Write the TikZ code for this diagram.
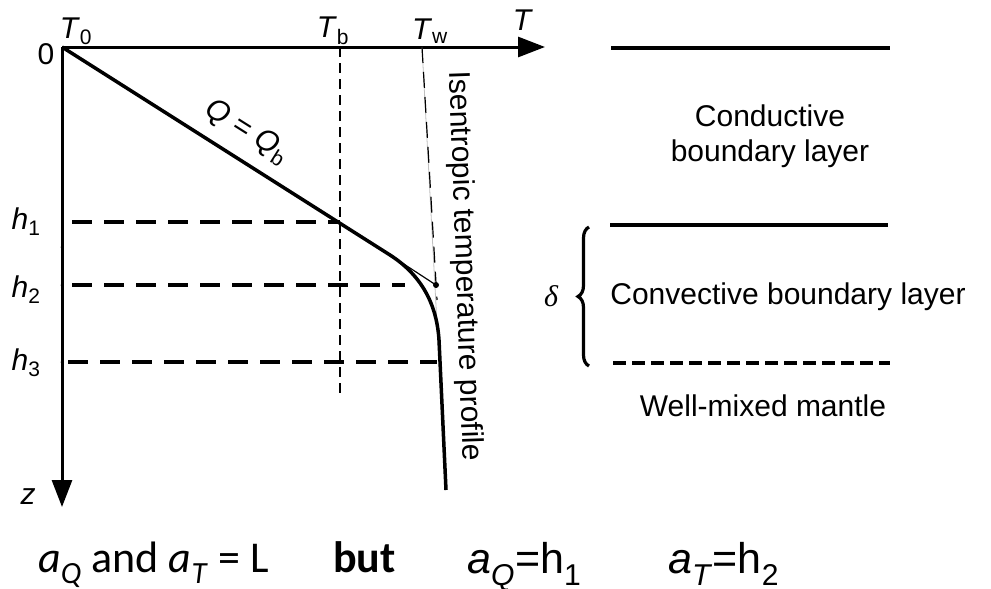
\documentclass[tikz,border=0pt]{standalone}
\usepackage{fontspec}
\setmainfont{Liberation Sans}
\newfontfamily\calfont{Carlito}
\newfontfamily\deltafont{Liberation Serif}
\usetikzlibrary{arrows.meta,decorations.pathreplacing}

\begin{document}
\begin{tikzpicture}[x=1pt,y=-1pt]
        % Style definitions
        \tikzset{
            axis/.style={black, line width=3pt, -{Triangle[length=27pt,width=20pt]}},
            profile/.style={black, line width=3.5pt},
            guide/.style={black, line width=1.2pt},
            level/.style={black, line width=4.5pt, dash pattern=on 20pt off 12pt},
            layerline/.style={black, line width=4pt},
            lbl/.style={font=\fontsize{30}{35}\selectfont, inner sep=0pt}
        }
        \useasboundingbox (0,0) rectangle (991,589);

        % ==========================================
        % AXES
        % ==========================================
        \coordinate (O) at (62,47);
        \coordinate (Tend) at (545,47);
        \coordinate (zend) at (62,507);
        \draw[axis] (O) -- (Tend);
        \draw[axis] (O) -- (zend);

        \node[lbl] (zero) at (46,54) {0};
        \node[lbl] (T0) at (76,31) {\textit{T}\textsubscript{0}};
        \node[lbl] (Tb) at (333,31) {\textit{T}\textsubscript{b}};
        \node[lbl] (Tw) at (430,31) {\textit{T}\textsubscript{w}};
        \node[lbl] (Tlab) at (523,20) {\textit{T}};
        \node[lbl] (zlab) at (28,497) {\textit{z}};

        % ==========================================
        % DEPTH LEVELS h1, h2, h3
        % ==========================================
        \coordinate (h1) at (62,222);
        \coordinate (h2) at (62,285);
        \coordinate (h3) at (62,362);
        \draw[level, line width=3.5pt] (72,222) -- (340,222);
        \draw[level] (72,285) -- (405,285);
        \draw[level] (68,362) -- (437,362);
        \fill (62,247) circle (1.5pt);
        \fill (h2) circle (1.5pt);
        \fill (h3) circle (1.5pt);

        \node[lbl] (h1lab) at (26,222) {\textit{h}\textsubscript{1}};
        \node[lbl] (h2lab) at (26,290) {\textit{h}\textsubscript{2}};
        \node[lbl] (h3lab) at (26,363) {\textit{h}\textsubscript{3}};

        % Tb guide (dashed, thin)
        \draw[black, line width=1.5pt, dash pattern=on 10pt off 6pt] (340,47) -- (340,393);

        % ==========================================
        % ISENTROPE AND TEMPERATURE PROFILE
        % ==========================================
        \draw[gray!50, line width=0.8pt] (422,47) -- (446,490);
        \draw[black, line width=1.2pt, dash pattern=on 16pt off 9pt] (422,47) -- (437,300);

        % Conductive part, then bending onto the isentrope
        \draw[profile] (O) -- (390,255) .. controls (418,273) and (436.5,300) .. (439,340) -- (446,490);
        % Extension of the conductive gradient to the isentrope
        \draw[guide] (390,255) -- (436,285);
        \fill (436,285) circle (3pt);

        \node[lbl, rotate=-32.2] (QQb) at (247,132) {\textit{Q} = \textit{Q}\textsubscript{b}};
        \node[lbl, rotate=-88] (isen) at (464,266) {Isentropic temperature profile};

        % ==========================================
        % LAYERS (right)
        % ==========================================
        \draw[layerline] (611,48) -- (890,48);
        \draw[layerline] (610,225) -- (888,225);
        \draw[layerline, dash pattern=on 13pt off 6pt] (613,363) -- (890,363);

        \node[lbl, align=center] (cond) at (770,136) {Conductive\\boundary layer};
        \node[lbl] (conv) at (788,297) {Convective boundary layer};
        \node[lbl] (mixed) at (763,406) {Well-mixed mantle};

        \draw[decorate, decoration={brace, amplitude=11pt}, line width=3.2pt] (589,366) -- (589,227);
        \node[lbl, font=\fontsize{30}{35}\deltafont\itshape] (delta) at (551,296) {δ};

        % ==========================================
        % BOTTOM LINE
        % ==========================================
        \node[anchor=base west, inner sep=0pt, font=\calfont\fontsize{44}{48}\selectfont] (eqL) at (38,572)
            {\textit{a}\textsubscript{\textit{Q}} and \textit{a}\textsubscript{\textit{T}} = L};
        \node[anchor=base west, inner sep=0pt, font=\calfont\fontsize{44}{48}\selectfont\bfseries] (but) at (333,572) {but};
        \node[anchor=base west, inner sep=0pt, font=\fontsize{43}{47}\selectfont] (aQ) at (467,573)
            {\textit{a}\textsubscript{\textit{Q}}=h\textsubscript{1}};
        \node[anchor=base west, inner sep=0pt, font=\fontsize{43}{47}\selectfont] (aT) at (668,573)
            {\textit{a}\textsubscript{\textit{T}}=h\textsubscript{2}};

    \end{tikzpicture}
\end{document}
